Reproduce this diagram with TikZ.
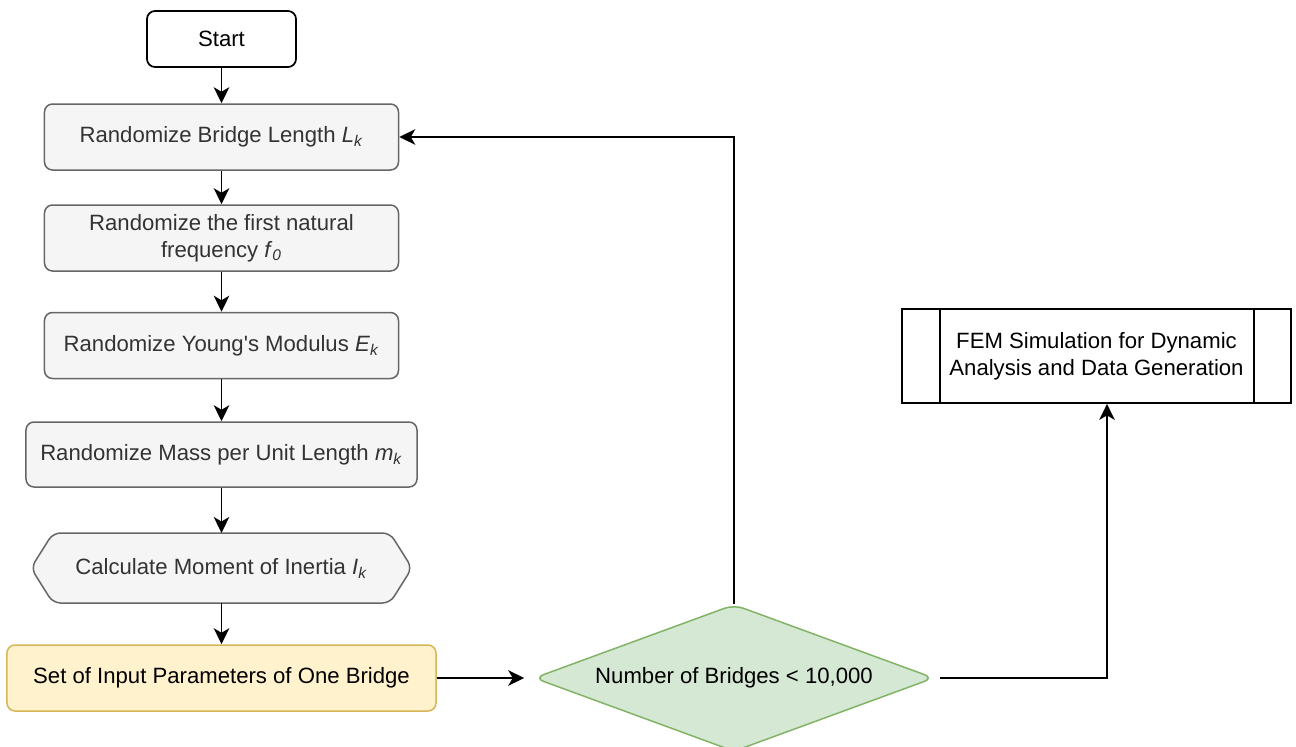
\documentclass[tikz,border=0pt]{standalone}
\usepackage{fontspec}
\setmainfont{Liberation Sans}
\usetikzlibrary{arrows.meta,shapes.geometric,backgrounds}

\definecolor{boxgray}{HTML}{F5F5F5}
\definecolor{linegray}{HTML}{666666}
\definecolor{textgray}{HTML}{333333}
\definecolor{paramfill}{HTML}{FFF2CC}
\definecolor{paramline}{HTML}{D6B656}
\definecolor{loopfill}{HTML}{D5E8D4}
\definecolor{loopline}{HTML}{82B366}

\newcommand{\prm}[2]{\textit{#1}\textsubscript{\textit{#2}}}

\begin{document}
\begin{tikzpicture}[x=0.2mm, y=-0.2mm,
        font=\fontsize{12.6}{15.4}\selectfont,
        every node/.style={align=center, inner sep=0pt, line width=0.3mm},
        stepbox/.style={draw=linegray, fill=boxgray, text=textgray, rounded corners=1.6mm,
            minimum width=70.8mm, minimum height=13.2mm},
        link/.style={line width=0.35mm, -{Stealth[length=3.2mm, width=3.1mm, inset=0.9mm]}}]
        \useasboundingbox (0,0) rectangle (1296,747);

        % Nodes
        \node[draw, line width=0.35mm, rounded corners=1.6mm, minimum width=29.8mm, minimum height=11.2mm] (start) at (221.5,39) {Start};
        \node[stepbox] (len) at (221.5,137) {Randomize Bridge Length \prm{L}{k}};
        \node[stepbox] (freq) at (221.5,238) {Randomize the first natural\\frequency \prm{f}{0}};
        \node[stepbox] (young) at (221.5,345.5) {Randomize Young\textquotesingle s Modulus \prm{E}{k}};
        \node[stepbox, minimum width=78.2mm, minimum height=13mm] (mass) at (221.5,454.5) {Randomize Mass per Unit Length \prm{m}{k}};
        \node[text=textgray, outer sep=0pt, minimum width=76.2mm, minimum height=14mm] (inertia) at (221.5,568) {Calculate Moment of Inertia \prm{I}{k}};
        \node[draw=paramline, fill=paramfill, rounded corners=1.6mm, minimum width=85.8mm, minimum height=13.2mm] (params) at (221.5,678) {Set of Input Parameters of One Bridge};
        \node[diamond, aspect=2.7, draw=loopline, fill=loopfill, rounded corners=2mm,
            minimum width=80mm, minimum height=29.4mm] (bridges) at (734,678) {Number of Bridges < 10,000};
        \node[draw, line width=0.35mm, minimum width=77.8mm, minimum height=18.8mm] (fem) at (1096.5,356) {FEM Simulation for Dynamic\\Analysis and Data Generation};
        \draw[line width=0.35mm] ([xshift=7.8mm]fem.north west) -- ([xshift=7.8mm]fem.south west)
            ([xshift=-7.6mm]fem.north east) -- ([xshift=-7.6mm]fem.south east);

        % Hexagon behind the text
        \begin{scope}[on background layer]
            \draw[line width=0.3mm, draw=linegray, fill=boxgray, rounded corners=1.5mm]
                (inertia.west) -- ([xshift=4.4mm]inertia.north west) -- ([xshift=-4.4mm]inertia.north east)
                -- (inertia.east) -- ([xshift=-4.4mm]inertia.south east) -- ([xshift=4.4mm]inertia.south west) -- cycle;
        \end{scope}

        % Edges
        \foreach \a/\b in {start/len, len/freq, freq/young, young/mass, mass/inertia, inertia/params}
            \draw[link] (\a.south) -- (\b.north);
        \draw[link, shorten >=1.8mm] (params.east) -- (bridges.west);
        \draw[link] (bridges.north) |- (len.east);
        \draw[link, shorten <=1mm] (bridges.east) -| ([xshift=2.1mm]fem.south);
    \end{tikzpicture}
\end{document}
